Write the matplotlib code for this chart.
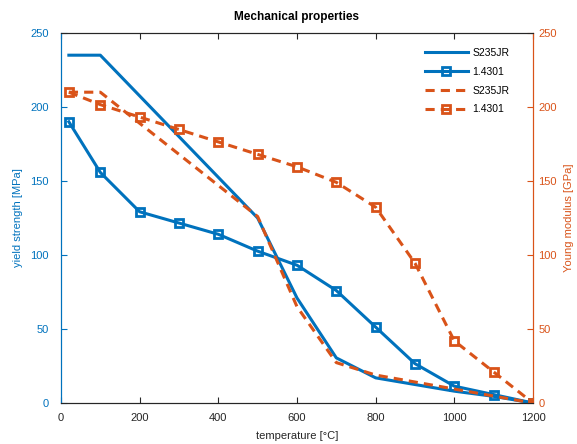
import matplotlib.pyplot as plt
import numpy as np

plt.rcParams['font.family'] = ['Liberation Sans', 'DejaVu Sans']

temp = [20, 100, 200, 300, 400, 500, 600, 700, 800, 900, 1000, 1100, 1200]

# yield strength [MPa]
fy_s235 = [235, 235, 207.5, 180, 152.5, 125, 71, 30.5, 17, 12.5, 8, 4.5, 0]
fy_14301 = [190, 155.8, 129.2, 121.6, 114, 102.6, 93.1, 76, 51.3, 26.6, 11.4, 5.7, 0]

# Young modulus [GPa]
E_s235 = [210, 210, 189, 168, 147, 126, 65.1, 27.3, 18.9, 14.2, 9.45, 4.7, 0]
E_14301 = [210, 201.6, 193.2, 184.8, 176.4, 168, 159.6, 149.1, 132.3, 94.5, 42, 21, 0]

blue = '#0072BD'
orange = '#D95319'

fig = plt.figure(figsize=(5.77, 4.44), dpi=100)
ax = fig.add_axes([0.1057, 0.0923, 0.818, 0.8334])
ax2 = ax.twinx()

l1, = ax.plot(temp, fy_s235, '-', color=blue, lw=2.2, label='S235JR')
l2, = ax.plot(temp, fy_14301, '-', color=blue, lw=2.2, marker='s', ms=6,
              mfc='none', mew=2, label='1.4301')
l3, = ax2.plot(temp, E_s235, '--', color=orange, lw=2.2, dashes=(3, 2), label='S235JR')
l4, = ax2.plot(temp, E_14301, '--', color=orange, lw=2.2, dashes=(3, 2), marker='s', ms=6,
               mfc='none', mew=2, label='1.4301')

ax.set_xlim(0, 1200)
ax.set_ylim(0, 250)
ax2.set_ylim(0, 250)
ax.set_xticks(np.arange(0, 1201, 200))
ax.set_yticks(np.arange(0, 251, 50))
ax2.set_yticks(np.arange(0, 251, 50))

fs = 8
ax.tick_params(axis='x', direction='in', top=True, labelsize=fs, colors='#262626',
               length=4, pad=7)
ax.tick_params(axis='y', direction='in', labelsize=fs, colors=blue, length=4, pad=9)
ax2.tick_params(axis='y', direction='in', labelsize=fs, colors=orange, length=4, pad=4)

for a in (ax, ax2):
    a.spines['left'].set_color(blue)
    a.spines['right'].set_color(orange)
    a.spines['top'].set_color('#262626')
    a.spines['bottom'].set_color('#262626')
    for s in a.spines.values():
        s.set_linewidth(0.8)

ax.set_xlabel('temperature [°C]', fontsize=fs, color='#262626', labelpad=6)
ax.set_ylabel('yield strength [MPa]', fontsize=fs, color=blue, labelpad=5)
ax2.set_ylabel('Young modulus [GPa]', fontsize=fs, color=orange, labelpad=5)
ax.set_title('Mechanical properties', fontsize=8.5, fontweight='bold', pad=9)

ax2.legend(handles=[l1, l2, l3, l4], loc='upper right', frameon=False, fontsize=7.5,
           handlelength=4.2, handletextpad=0.4, labelspacing=0.85,
           bbox_to_anchor=(0.97, 0.985))

fig.savefig('out.png', dpi=100)
